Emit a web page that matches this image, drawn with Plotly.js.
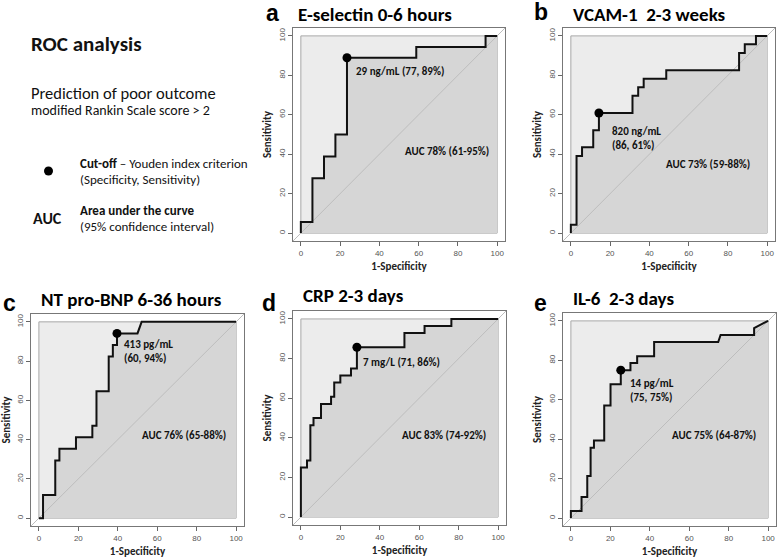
<!DOCTYPE html>
<html>
<head>
<meta charset="utf-8">
<script src="https://cdn.plot.ly/plotly-3.0.1.min.js"></script>
<style>
  body { margin: 0; background: #fff; }
  #roc { width: 778px; height: 559px; }
</style>
</head>
<body>
<div id="roc"></div>
<script>
// ROC step curves, values in % (x = 1-specificity, y = sensitivity)
var eselX = [0, 0, 5.9, 5.9, 11.8, 11.8, 17.6, 17.6, 23.5, 23.5, 58.8, 58.8, 94.1, 94.1, 100];
var eselY = [0, 5.6, 5.6, 27.8, 27.8, 38.9, 38.9, 50, 50, 88.9, 88.9, 94.4, 94.4, 100, 100];
var eselCut = [23.5, 88.9];

var vcamX = [0, 0, 2.9, 2.9, 5.7, 5.7, 11.4, 11.4, 14.3, 14.3, 31.4, 31.4, 34.3, 34.3, 37.1, 37.1, 48.6, 48.6, 85.7, 85.7, 88.6, 88.6, 94.3, 94.3, 100];
var vcamY = [0, 4.3, 4.3, 39.1, 39.1, 43.5, 43.5, 52.2, 52.2, 60.9, 60.9, 69.6, 69.6, 73.9, 73.9, 78.3, 78.3, 82.6, 82.6, 91.3, 91.3, 95.7, 95.7, 100, 100];
var vcamCut = [14.3, 60.9];

var bnpX = [0, 2.1, 2.1, 8.3, 8.3, 10.4, 10.4, 18.8, 18.8, 27.1, 27.1, 29.2, 29.2, 35.4, 35.4, 37.5, 37.5, 39.6, 39.6, 50, 52.1, 100];
var bnpY = [0, 0, 11.8, 11.8, 29.4, 29.4, 35.3, 35.3, 41.2, 41.2, 47.1, 47.1, 64.7, 64.7, 82.4, 82.4, 88.2, 88.2, 94.1, 94.1, 100, 100];
var bnpCut = [39.6, 94.1];

var crpX = [0, 0, 3.1, 3.1, 4.8, 4.8, 6.4, 6.4, 10.2, 10.2, 15.3, 15.3, 16.9, 16.9, 20, 20, 25.4, 25.4, 28.4, 28.4, 52.5, 52.5, 62.7, 62.7, 76.3, 76.3, 100];
var crpY = [0, 25, 25, 28.6, 28.6, 46.4, 46.4, 50, 50, 57.1, 57.1, 60.7, 60.7, 67.9, 67.9, 71.4, 71.4, 75, 75, 85.7, 85.7, 92.9, 92.9, 96.4, 96.4, 100, 100];
var crpCut = [28.4, 85.7];

var il6X = [0, 0, 5.4, 5.4, 8.3, 8.3, 10, 10, 11.7, 11.7, 16.9, 16.9, 20.1, 20.1, 25.3, 25.3, 30.2, 30.2, 33.6, 33.6, 42.2, 42.2, 74.7, 75.9, 92.9, 92.9, 100];
var il6Y = [0, 3.6, 3.6, 10.7, 10.7, 21.4, 21.4, 35.7, 35.7, 39.3, 39.3, 57.1, 57.1, 67.9, 67.9, 75, 75, 78.6, 78.6, 82.1, 82.1, 89.3, 89.3, 92.9, 92.9, 96.4, 100];
var il6Cut = [25.3, 75];

var tickVals = [0, 20, 40, 60, 80, 100];
var diag = [-4, 104];

var panelLetters = ['a', 'b', 'c', 'd', 'e'];
var panelTitles = ['E-selectin 0-6 hours', 'VCAM-1&nbsp;&nbsp;2-3 weeks', 'NT pro-BNP 6-36 hours', 'CRP 2-3 days', 'IL-6&nbsp;&nbsp;2-3 days'];
var cutLabels = ['29 ng/mL (77, 89%)', '820 ng/mL<br>(86, 61%)', '413 pg/mL<br>(60, 94%)', '7 mg/L (71, 86%)', '14 pg/mL<br>(75, 75%)'];
var aucLabels = ['AUC 78% (61-95%)', 'AUC 73% (59-88%)', 'AUC 76% (65-88%)', 'AUC 83% (74-92%)', 'AUC 75% (64-87%)'];

var W = 778, H = 559;
var txtFont = 'Carlito, Lato, sans-serif';

// pixel boxes of each plot frame: [left, right, top, bottom]
var boxes = [
    [293, 505, 28, 241],
    [563, 775, 28, 241],
    [31, 244, 314, 526],
    [293, 506, 311, 525],
    [563, 776, 313, 526]
];
// label anchors in data units: cut-off label x,y ; AUC label x,y
var cutPos = [[27, 82], [20, 48], [42, 85], [30.5, 78], [29, 64.5]];
var aucPos = [[52, 41.5], [47.5, 34.6], [51.5, 42], [50, 41], [50.5, 41.9]];
// title positions in pixels: letter x,y ; title x,y
var titlePos = [[264, 13, 296, 14], [532, 12, 571, 15], [1, 303, 39, 299], [260, 303, 301, 295], [532, 303, 571, 298]];

var curves = [[eselX, eselY, eselCut], [vcamX, vcamY, vcamCut], [bnpX, bnpY, bnpCut], [crpX, crpY, crpCut], [il6X, il6Y, il6Cut]];

var data = [];
var layout = {
    width: W, height: H,
    margin: {l: 0, r: 0, t: 0, b: 0},
    paper_bgcolor: '#fff',
    plot_bgcolor: '#fff',
    showlegend: false,
    shapes: [],
    annotations: []
};

function px(x) { return x / W; }
function py(y) { return 1 - y / H; }

for (var i = 0; i < 5; i++) {
    var n = i === 0 ? '' : String(i + 1);
    var xa = 'x' + n, ya = 'y' + n;
    var b = boxes[i];

    layout['xaxis' + n] = {
        domain: [px(b[0]), px(b[1])],
        anchor: ya,
        range: [-4, 104],
        tickvals: tickVals,
        ticks: 'outside', ticklen: 4, tickcolor: '#666',
        tickfont: {family: 'Liberation Sans', size: 8, color: '#555'},
        showline: true, mirror: true, linecolor: '#777', linewidth: 1,
        showgrid: false, zeroline: false, fixedrange: true,
        title: {text: '<b>1-Specificity</b>', standoff: 5, font: {family: txtFont, size: 11, color: '#222'}}
    };
    layout['yaxis' + n] = {
        domain: [py(b[3]), py(b[2])],
        anchor: xa,
        range: [-4, 104],
        tickvals: tickVals,
        tickangle: -90,
        ticks: 'outside', ticklen: 4, tickcolor: '#666',
        tickfont: {family: 'Liberation Sans', size: 8, color: '#555'},
        showline: true, mirror: true, linecolor: '#777', linewidth: 1,
        showgrid: false, zeroline: false, fixedrange: true,
        title: {text: '<b>Sensitivity</b>', standoff: 3, font: {family: txtFont, size: 11, color: '#222'}}
    };

    // light square behind the curve
    layout.shapes.push({
        type: 'rect', xref: xa, yref: ya, x0: 0, x1: 100, y0: 0, y1: 100,
        fillcolor: '#ececec', line: {color: '#a8a8a8', width: 1}, layer: 'below'
    });

    var c = curves[i];
    // area under the curve
    data.push({
        x: c[0], y: c[1], xaxis: xa, yaxis: ya, type: 'scatter', mode: 'lines',
        fill: 'tozeroy', fillcolor: '#d6d6d6', line: {width: 0, color: 'rgba(0,0,0,0)'},
        hoverinfo: 'skip'
    });
    // chance line
    data.push({
        x: diag, y: diag, xaxis: xa, yaxis: ya, type: 'scatter', mode: 'lines',
        line: {color: '#bdbdbd', width: 1}, hoverinfo: 'skip'
    });
    // ROC step curve
    data.push({
        x: c[0], y: c[1], xaxis: xa, yaxis: ya, type: 'scatter', mode: 'lines',
        line: {color: '#111', width: 2}
    });
    // cut-off point
    data.push({
        x: [c[2][0]], y: [c[2][1]], xaxis: xa, yaxis: ya, type: 'scatter', mode: 'markers',
        marker: {color: '#000', size: 9}
    });

    layout.annotations.push({
        xref: xa, yref: ya, x: cutPos[i][0], y: cutPos[i][1],
        xanchor: 'left', yanchor: 'middle', align: 'left', showarrow: false,
        text: '<b>' + cutLabels[i] + '</b>',
        font: {family: txtFont, size: 11, color: '#111'}
    });
    layout.annotations.push({
        xref: xa, yref: ya, x: aucPos[i][0], y: aucPos[i][1],
        xanchor: 'left', yanchor: 'middle', showarrow: false,
        text: '<b>' + aucLabels[i] + '</b>',
        font: {family: txtFont, size: 11, color: '#111'}
    });

    var t = titlePos[i];
    layout.annotations.push({
        xref: 'paper', yref: 'paper', x: px(t[0]), y: py(t[1]),
        xanchor: 'left', yanchor: 'middle', showarrow: false,
        text: '<b>' + panelLetters[i] + '</b>',
        font: {family: 'Liberation Sans', size: 23, color: '#000'}
    });
    layout.annotations.push({
        xref: 'paper', yref: 'paper', x: px(t[2]), y: py(t[3]),
        xanchor: 'left', yanchor: 'middle', showarrow: false,
        text: '<b>' + panelTitles[i] + '</b>',
        font: {family: txtFont, size: 19, color: '#000'}
    });
}

// explanation block on the top left
var notes = [
    [29, 44, '<b>ROC analysis</b>', 21],
    [29, 93, 'Prediction of poor outcome', 16.5],
    [29, 111, 'modified Rankin Scale score &gt; 2', 14],
    [78, 163, '<b>Cut-off</b> – Youden index criterion', 13],
    [78, 179, '(Specificity, Sensitivity)', 13],
    [31, 218, '<b>AUC</b>', 16],
    [78, 210, '<b>Area under the curve</b>', 13],
    [78, 226, '(95% confidence interval)', 13]
];
notes.forEach(function (nt) {
    layout.annotations.push({
        xref: 'paper', yref: 'paper', x: px(nt[0]), y: py(nt[1]),
        xanchor: 'left', yanchor: 'middle', showarrow: false,
        text: nt[2], font: {family: txtFont, size: nt[3], color: '#111'}
    });
});
layout.shapes.push({
    type: 'circle', xref: 'paper', yref: 'paper',
    x0: px(44), x1: px(53), y0: py(175.5), y1: py(166.5),
    fillcolor: '#000', line: {width: 0}
});

Plotly.newPlot('roc', data, layout, {displayModeBar: false, staticPlot: true});
</script>
</body>
</html>
